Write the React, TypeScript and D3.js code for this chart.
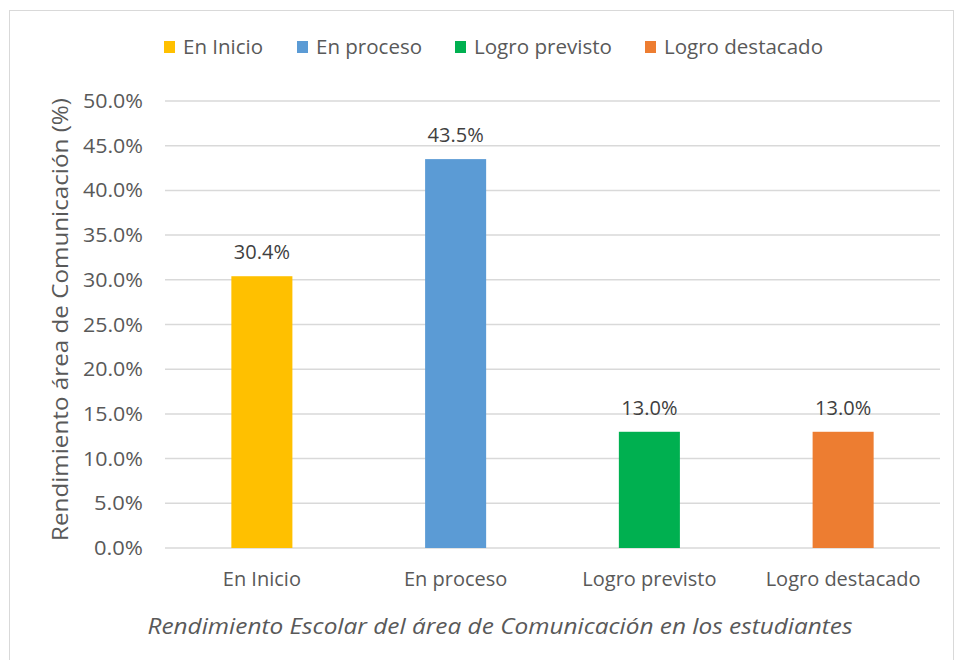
import { scaleBand, scaleLinear } from "d3";

const categories = ["En Inicio", "En proceso", "Logro previsto", "Logro destacado"];
const values = [30.4, 43.5, 13.0, 13.0];
const colors = ["#FFC000", "#5B9BD5", "#00B050", "#ED7D31"];
const yTicks = [0, 5, 10, 15, 20, 25, 30, 35, 40, 45, 50];
const yTitle = "Rendimiento área de Comunicación (%)";
const xTitle = "Rendimiento Escolar del área de Comunicación en los estudiantes";

const legendX = [164, 297, 455, 645];
const legendW = [80, 106, 138, 159];

const W = 958,
  H = 660;
const left = 165,
  right = 940,
  top = 101,
  bottom = 548;
const font = "'Open Sans', 'Noto Sans', sans-serif";
const grey = "#595959";

export default function App() {
  const x = scaleBand<string>().domain(categories).range([left, right]).paddingInner(0.685).paddingOuter(0.3425);
  const y = scaleLinear().domain([0, 50]).range([bottom, top]);

  return (
    <svg width={W} height={H} style={{ position: "absolute", left: 0, top: 0 }} fontFamily={font}>
      <rect x={0} y={0} width={W} height={H} fill="#fff" />
      <rect x={9.5} y={10.5} width={W - 14} height={H - 8} fill="#fff" stroke="#d9d9d9" />
      {yTicks.map((t) => (
        <g key={t}>
          <line x1={left} x2={right} y1={y(t)} y2={y(t)} stroke="#d9d9d9" strokeWidth={1.5} />
          <text x={143} y={y(t)} dy="0.35em" textAnchor="end" fontSize={20} fill={grey} textLength={t >= 10 ? 60 : 49} lengthAdjust="spacingAndGlyphs">
            {t.toFixed(1)}%
          </text>
        </g>
      ))}
      {categories.map((c, i) => (
        <g key={c}>
          <rect x={x(c)} y={y(values[i])} width={x.bandwidth()} height={bottom - y(values[i])} fill={colors[i]} />
          <text x={(x(c) ?? 0) + x.bandwidth() / 2} y={y(values[i]) - 17} textAnchor="middle" fontSize={20} fill="#404040">
            {values[i].toFixed(1)}%
          </text>
          <text x={(x(c) ?? 0) + x.bandwidth() / 2} y={586} textAnchor="middle" fontSize={20} fill={grey}>
            {c}
          </text>
        </g>
      ))}
      <text
        transform={`translate(68,${(top + bottom) / 2 - 5}) rotate(-90)`}
        textAnchor="middle"
        fontSize={22}
        fill={grey}
        textLength={443}
        lengthAdjust="spacingAndGlyphs"
      >
        {yTitle}
      </text>
      <text x={500} y={634} textAnchor="middle" fontSize={22.5} fontStyle="italic" fill={grey} textLength={705} lengthAdjust="spacingAndGlyphs">
        {xTitle}
      </text>
      {categories.map((c, i) => (
        <g key={"lg" + c}>
          <rect x={legendX[i]} y={41} width={11} height={12} fill={colors[i]} />
          <text
            x={legendX[i] + 19}
            y={47}
            dy="0.35em"
            fontSize={20}
            fill={grey}
            textLength={legendW[i]}
            lengthAdjust="spacingAndGlyphs"
          >
            {c}
          </text>
        </g>
      ))}
    </svg>
  );
}
